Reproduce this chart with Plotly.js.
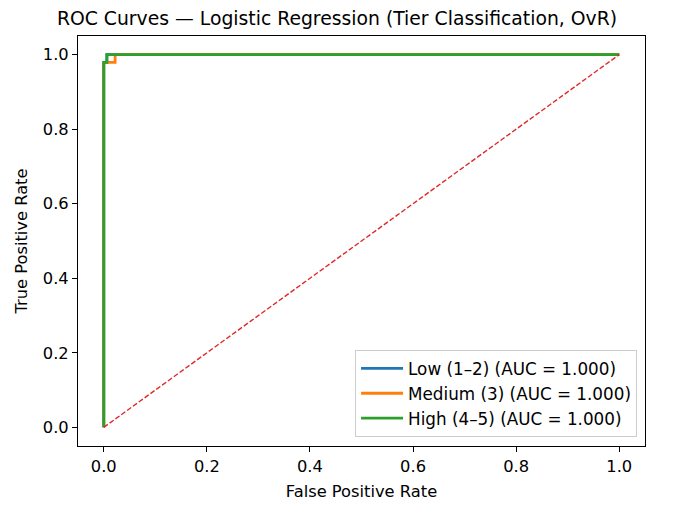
<!DOCTYPE html>
<html>
<head>
<meta charset="utf-8">
<script src="https://cdn.plot.ly/plotly-3.0.1.min.js"></script>
<style>html,body{margin:0;padding:0;background:#fff;}#chart{width:674px;height:506px;}</style>
</head>
<body>
<div id="chart"></div>
<script>
const seriesNames = ["Low (1–2) (AUC = 1.000)", "Medium (3) (AUC = 1.000)", "High (4–5) (AUC = 1.000)"];
const seriesColors = ["#1f77b4", "#ff7f0e", "#2ca02c"];
const lowFPR = [0, 0, 0.006, 0.006, 1];
const lowTPR = [0, 0.979, 0.979, 1, 1];
const medFPR = [0, 0, 0.022, 0.022, 1];
const medTPR = [0, 0.979, 0.979, 1, 1];
const highFPR = [0, 0, 0.006, 0.006, 1];
const highTPR = [0, 0.979, 0.979, 1, 1];
const chanceX = [0, 1];
const chanceY = [0, 1];
const xTicks = [0, 0.2, 0.4, 0.6, 0.8, 1.0];
const yTicks = [0, 0.2, 0.4, 0.6, 0.8, 1.0];

const fpr = [lowFPR, medFPR, highFPR];
const tpr = [lowTPR, medTPR, highTPR];
const traces = [];
for (let i = 0; i < 3; i++) {
  traces.push({x: fpr[i], y: tpr[i], mode: 'lines', name: seriesNames[i],
    line: {color: seriesColors[i], width: 2.8, shape: 'linear'}});
}
traces.push({x: chanceX, y: chanceY, mode: 'lines', showlegend: false,
  line: {color: '#e02828', width: 1.4, dash: '5px,2.2px'}});

const font = {family: 'DejaVu Sans, sans-serif', color: '#000', size: 16.3};
const axisCommon = {
  showgrid: false, zeroline: false, showline: true, mirror: true,
  linecolor: '#000', linewidth: 1, ticks: 'outside', ticklen: 5, tickwidth: 1,
  tickcolor: '#000', tickfont: font
};
const layout = {
  width: 674, height: 506,
  margin: {l: 78, r: 29, t: 36, b: 60},
  paper_bgcolor: '#fff', plot_bgcolor: '#fff',
  font: font,
  title: {text: 'ROC Curves — Logistic Regression (Tier Classification, OvR)',
    font: {family: 'DejaVu Sans, sans-serif', size: 18.8, color: '#000'},
    x: 0.5, xanchor: 'center', y: 1 - 18/506, yanchor: 'middle'},
  xaxis: Object.assign({}, axisCommon, {range: [-0.05, 1.05], tickvals: xTicks,
    ticktext: xTicks.map(v => v.toFixed(1)),
    title: {text: 'False Positive Rate', font: font, standoff: 11}}),
  yaxis: Object.assign({}, axisCommon, {range: [-0.05, 1.05], tickvals: yTicks,
    ticktext: yTicks.map(v => v.toFixed(1)),
    title: {text: 'True Positive Rate', font: font, standoff: 11}}),
  legend: {x: 0.986, y: 0.022, xanchor: 'right', yanchor: 'bottom',
    bgcolor: 'rgba(255,255,255,0.8)', bordercolor: '#ccc', borderwidth: 1,
    font: {family: 'DejaVu Sans, sans-serif', size: 16.8, color: '#000'},
    itemwidth: 42, tracegroupgap: 0}
};
Plotly.newPlot('chart', traces, layout, {displayModeBar: false, staticPlot: true});
</script>
</body>
</html>
